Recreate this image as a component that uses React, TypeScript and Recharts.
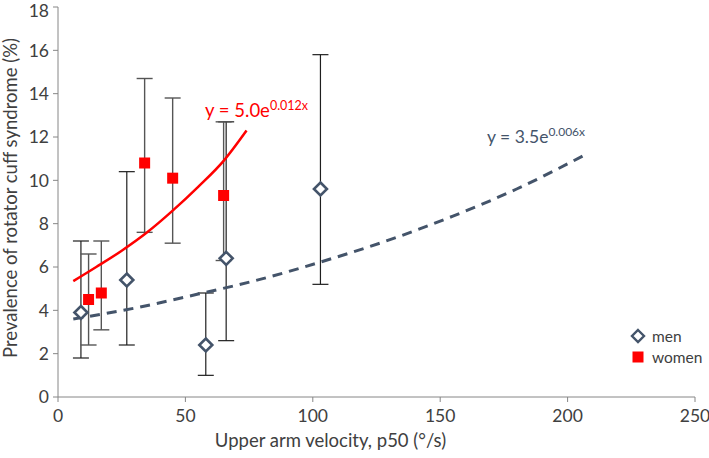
import { ScatterChart, Scatter, XAxis, YAxis, ErrorBar, Label } from 'recharts';

const FONT = 'Lato, "Open Sans", sans-serif';
const MEN = '#44546A';
const WOMEN = '#FF0000';

// measured points with 95% CI ends
const menX = [9, 27, 58, 66, 103];
const menY = [3.9, 5.4, 2.4, 6.4, 9.6];
const menLow = [1.8, 2.4, 1.0, 2.6, 5.2];
const menHigh = [7.2, 10.4, 4.8, 12.7, 15.8];

const womenX = [12, 17, 34, 45, 65];
const womenY = [4.5, 4.8, 10.8, 10.1, 9.3];
const womenLow = [2.4, 3.1, 7.6, 7.1, 6.3];
const womenHigh = [6.6, 7.2, 14.7, 13.8, 12.7];

// trendlines
const womenTrendX = [6, 15, 25, 35, 45, 55, 65, 74];
const womenTrendY = [5.35, 6.0, 6.75, 7.6, 8.6, 9.7, 10.9, 12.3];
const menTrendX = [6, 30, 55, 80, 105, 130, 155, 180, 208];
const menTrendY = [3.6, 4.1, 4.75, 5.45, 6.3, 7.25, 8.35, 9.6, 11.25];

const xTicks = [0, 50, 100, 150, 200, 250];
const yTicks = [0, 2, 4, 6, 8, 10, 12, 14, 16, 18];

const toPoints = (xs: number[], ys: number[], lo: number[], hi: number[]) =>
  xs.map((x, i) => ({ x, y: ys[i], err: [ys[i] - lo[i], hi[i] - ys[i]] }));

const menData = toPoints(menX, menY, menLow, menHigh);
const womenData = toPoints(womenX, womenY, womenLow, womenHigh);
const womenTrend = womenTrendX.map((x, i) => ({ x, y: womenTrendY[i] }));
const menTrend = menTrendX.map((x, i) => ({ x, y: menTrendY[i] }));

function Diamond({ cx, cy }: any) {
  const r = 6.5;
  return (
    <polygon
      points={`${cx},${cy - r} ${cx + r},${cy} ${cx},${cy + r} ${cx - r},${cy}`}
      fill="#fff"
      stroke={MEN}
      strokeWidth={2.6}
    />
  );
}

function Square({ cx, cy }: any) {
  return <rect x={cx - 5.5} y={cy - 5.5} width={11} height={11} fill={WOMEN} />;
}

const NoShape = () => <g />;

export default function App() {
  const tick = { fill: '#404040', fontSize: 17.5, fontFamily: FONT };
  const title = { fill: '#404040', fontSize: 18.5, fontFamily: FONT };
  return (
    <div style={{ position: 'absolute', left: 0, top: 0, width: 709, height: 458, background: '#fff' }}>
      <ScatterChart width={709} height={458} margin={{ top: 7, right: 14, left: 0, bottom: 0 }}>
        <XAxis
          type="number"
          dataKey="x"
          domain={[0, 250]}
          ticks={xTicks}
          stroke="#868686"
          tick={tick}
          tickSize={5}
          tickMargin={8}
          height={61}
        >
          <Label
            value="Upper arm velocity, p50 (°/s)"
            position="insideBottom"
            dx={-46}
            offset={11}
            style={title}
          />
        </XAxis>
        <YAxis
          type="number"
          dataKey="y"
          domain={[0, 18]}
          ticks={yTicks}
          stroke="#868686"
          tick={tick}
          tickSize={5}
          tickMargin={4}
          width={58}
        >
          <Label
            value="Prevalence of rotator cuff syndrome (%)"
            angle={-90}
            position="insideLeft"
            dx={5}
            dy={-4}
            style={{ ...title, textAnchor: 'middle' }}
          />
        </YAxis>
        <Scatter
          data={menTrend}
          shape={NoShape}
          line={{ stroke: MEN, strokeWidth: 3, strokeDasharray: '10 7' }}
          lineJointType="monotoneX"
          isAnimationActive={false}
        />
        <Scatter
          data={womenTrend}
          shape={NoShape}
          line={{ stroke: WOMEN, strokeWidth: 2.5 }}
          lineJointType="monotoneX"
          isAnimationActive={false}
        />
        <Scatter data={menData} shape={Diamond} isAnimationActive={false}>
          <ErrorBar dataKey="err" direction="y" width={8} stroke="#1f1f1f" strokeWidth={1.2} />
        </Scatter>
        <Scatter data={womenData} shape={Square} isAnimationActive={false}>
          <ErrorBar dataKey="err" direction="y" width={8} stroke="#555" strokeWidth={1.4} />
        </Scatter>
      </ScatterChart>

      <div style={{ position: 'absolute', left: 205, top: 98, color: WOMEN, fontFamily: FONT, fontSize: 18.5, whiteSpace: 'nowrap' }}>
        y = 5.0e<sup style={{ fontSize: 12.5 }}>0.012x</sup>
      </div>
      <div style={{ position: 'absolute', left: 487, top: 124, color: MEN, fontFamily: FONT, fontSize: 17.5, whiteSpace: 'nowrap' }}>
        y = 3.5e<sup style={{ fontSize: 12 }}>0.006x</sup>
      </div>

      <div style={{ position: 'absolute', left: 630, top: 325, fontFamily: FONT, fontSize: 15.5, color: '#404040' }}>
        <div style={{ display: 'flex', alignItems: 'center', height: 21 }}>
          <svg width={16} height={16} style={{ marginRight: 6 }}>
            <polygon points="8,2 14,8 8,14 2,8" fill="#fff" stroke={MEN} strokeWidth={2.4} />
          </svg>
          men
        </div>
        <div style={{ display: 'flex', alignItems: 'center', height: 21 }}>
          <svg width={16} height={16} style={{ marginRight: 6 }}>
            <rect x={2.5} y={2.5} width={11} height={11} fill={WOMEN} />
          </svg>
          women
        </div>
      </div>
    </div>
  );
}
